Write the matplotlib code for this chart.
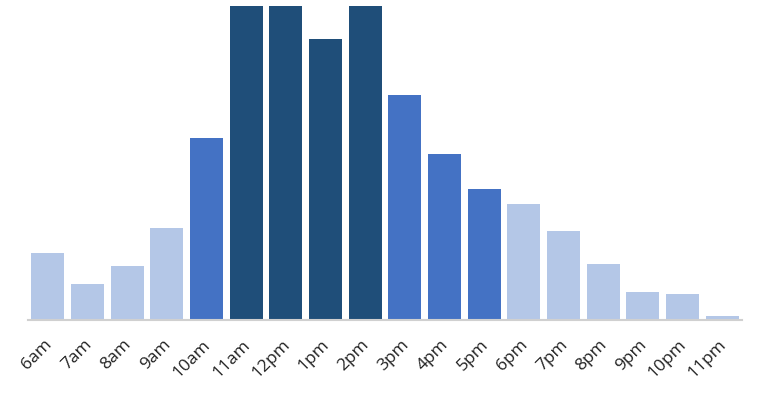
import matplotlib
matplotlib.use('Agg')
import matplotlib.pyplot as plt
import matplotlib.transforms as mtransforms
import numpy as np

plt.rcParams['font.family'] = ['Open Sans', 'DejaVu Sans']

# ── data (pixel heights) ──
hours = ['6am', '7am', '8am', '9am', '10am', '11am', '12pm', '1pm', '2pm',
         '3pm', '4pm', '5pm', '6pm', '7pm', '8pm', '9pm', '10pm', '11pm']
values = [67, 36, 54, 92, 182, 314, 314, 281, 314,
          225, 166, 131, 116, 89, 56, 28, 26, 4]
level = ['low', 'low', 'low', 'low', 'mid', 'high', 'high', 'high', 'high',
         'mid', 'mid', 'mid', 'low', 'low', 'low', 'low', 'low', 'low']

colors = {'low': '#b4c7e7', 'mid': '#4472c4', 'high': '#1f4e79'}

fig = plt.figure(figsize=(7.65, 3.95), dpi=100)
ax = fig.add_axes([28 / 765, 75 / 395, 714 / 765, 314 / 395])

x = np.arange(len(hours))
ax.bar(x, values, width=0.84, color=[colors[l] for l in level])
ax.set_xlim(-0.5, len(hours) - 0.5)
ax.set_ylim(0, max(values))

ax.set_xticks(x)
ax.set_xticklabels(hours, rotation=45, ha='right', rotation_mode='anchor',
                   fontsize=12.5, color='#222222')
ax.tick_params(axis='x', length=0, pad=12)
# nudge labels a little to the left
shift = mtransforms.ScaledTranslation(-4 / 100, 0, fig.dpi_scale_trans)
for lbl in ax.get_xticklabels():
    lbl.set_transform(lbl.get_transform() + shift)
ax.set_yticks([])
for s in ['top', 'right', 'left']:
    ax.spines[s].set_visible(False)
ax.spines['bottom'].set_color('#d0d0d0')
ax.spines['bottom'].set_linewidth(1.5)

plt.savefig('out.png', dpi=100)
